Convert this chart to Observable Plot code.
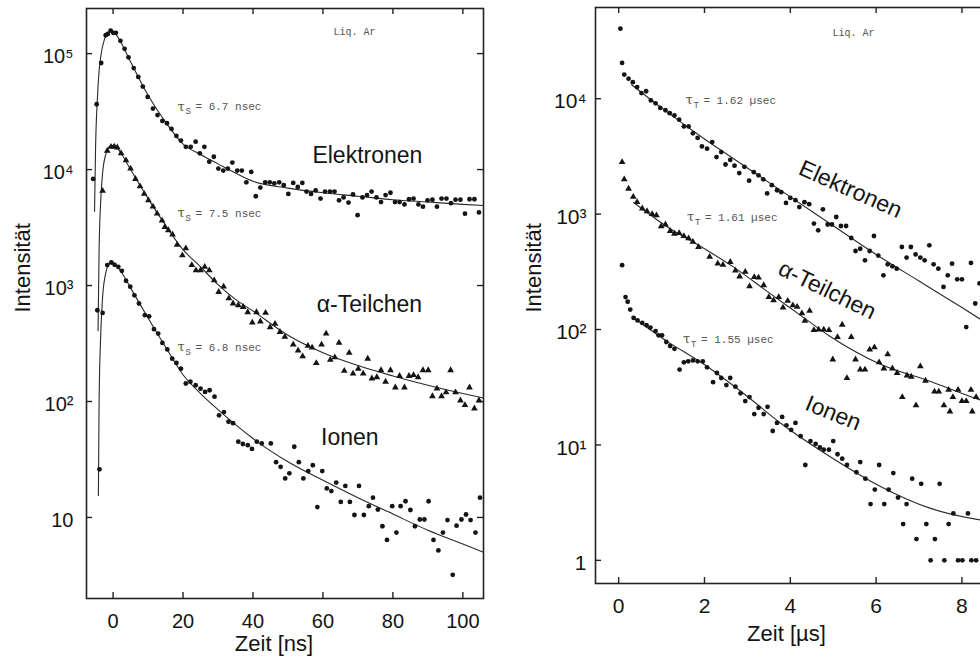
<!DOCTYPE html>
<html><head><meta charset="utf-8">
<script src="https://cdn.jsdelivr.net/npm/d3@7"></script>
<script src="https://cdn.jsdelivr.net/npm/@observablehq/plot@0.6"></script>
<style>
html,body{margin:0;padding:0;background:#fff;overflow:hidden}
#wrap{position:relative;width:980px;height:666px;overflow:hidden;background:#fff}
#wrap svg{position:absolute;top:0}
</style></head><body><div id="wrap"></div>
<script>
// ================= DATA =================
// --- left panel: singlet decay, time in ns ---
const nsXTicks = [0,20,40,60,80,100];
const nsYTicks = [10,100,1000,10000,100000];
const nsYTickLabels = ["10","10²","10³","10⁴","10⁵"];

const elecNsT = [-5.7,-4.7,-3.4,-2.1,-1.5,-0.7,0.05,0.8,2.1,3.3,4.4,5.9,7.2,8.5,9.9,11.4,12.7,14.1,15.4,16.7,18.1,19.4,20.8,22.2,23.6,24.8,26.1,27.5,28.8,30.1,31.5,32.8,34.1,35.5,36.8,38.1,39.5,40.8,42.1,43.5,44.8,46.1,47.5,48.8,50.1,51.5,52.8,54.1,55.3,56.6,57.9,59.3,60.6,62,63.3,64.6,65.9,67.3,68.6,69.9,71.3,72.6,73.9,75.3,76.6,77.9,79.3,80.6,81.9,83.3,84.6,85.9,87.3,88.6,89.9,91.3,92.6,93.9,95.3,96.6,97.9,99.3,100.6,101.9,103.3,104.6];
const elecNsI = [8300,36600,83000,144000,148000,158000,151000,151000,129000,110000,93000,75000,63000,52000,42300,33600,29500,26300,25100,22400,19500,17800,15700,15700,17400,13800,15700,11700,12900,10200,9800,10200,11500,9800,9800,7760,9550,5890,7000,7760,7760,7590,7760,7330,6170,7670,7080,7670,6460,6170,6610,5620,6460,6460,6460,5430,5750,5190,6100,4040,5750,6030,6460,5750,5250,6030,6310,5250,5250,5010,5550,5620,5010,4790,5430,5500,4790,5620,5620,5130,5500,5500,4170,5550,5550,4270];

const alphaNsT = [-3.0,-1.66,-0.6,0.33,1.2,2.3,3.7,5.0,6.4,7.7,8.9,10.1,11.4,12.6,14.0,14.8,15.8,17.0,18.3,19.8,20.8,22.5,23.7,25,26.2,27.5,28.9,30.2,31.6,33.1,34.3,35.8,37.2,38.5,39.8,41,42.1,43.6,44.9,46.3,47.7,49.1,51.5,52.9,54.2,55.7,56.9,58.1,59.6,60.9,62.1,63.4,64.6,66.1,67.5,68.6,70.1,71.5,72.8,74,75.4,76.6,77.9,79.3,80.7,81.9,83.3,84.6,85.9,87.2,88.6,90.1,91.3,92.6,93.9,95.2,96.5,97.9,99.3,100.6,101.9,103.3,104.6];
const alphaNsI = [6550,14500,15700,15800,15500,13800,12000,10200,8300,7180,6170,5430,4790,4170,3630,3200,3000,2750,2240,1820,2090,1500,1350,1350,1450,1350,1110,880,980,776,700,676,653,589,479,589,490,582,437,468,398,361,309,275,245,302,292,214,309,385,229,240,320,184,263,174,191,174,234,158,162,186,148,186,132,166,132,166,169,162,186,186,111,129,111,120,186,120,102,93,132,87,102];

const ionNsT = [-4.5,-3.9,-3.0,-1.66,-0.5,0.43,1.5,2.5,3.7,4.9,6.1,7.4,9.1,10.3,11.7,12.9,14.1,15.5,16.9,18.1,19.4,20.8,22.1,23.6,25,26.3,27.6,29,30.3,31.7,33,34.3,35.8,37.1,38.5,39.7,41.1,42.5,45.1,46.6,47.9,49.2,50.4,51.8,53.1,54.4,55.8,57.1,58.4,59.8,61.1,62.4,63.8,65.1,66.4,67.7,69,70.3,71.7,73.1,74.3,75.7,77,78.3,79.8,81,82.2,83.6,85,86.3,87.7,89,90.2,91.6,93,94.3,95.6,97.1,98.2,99.6,100.9,102.2,103.6,104.9];
const ionNsI = [612,26,581,1500,1580,1510,1450,1340,1100,977,824,700,555,543,420,385,320,281,234,215,192,143,148,138,129,121,125,110,76,81,67,65,45,43,42,39,45,43.5,43.5,30,27.3,21.7,24,40.7,30,21.7,25.1,28.2,12.3,25.1,17.8,16.9,20,13.6,18.7,13.6,10.5,18.7,10.5,12.5,14.8,11.7,8.4,6.4,12.5,7.4,12.5,13.8,11.6,8.4,9.6,9.6,13.8,6.4,5.2,7.4,9.5,3.2,8.5,9.6,10.6,9.5,7.4,14.8];

// fitted curves
const elecNsFitT = [-5.3,-5.0,-4.5,-4.0,-3.5,-2.5,-1.5,-0.5,0.5,2,5,10,15,20,25,30,35,40,50,60,70,80,90,100,105.9];
const elecNsFitI = [4370,15800,39800,70800,95500,132000,151000,157000,151000,129000,85100,43700,25700,16600,13500,11200,9330,7940,6920,6310,5890,5500,5250,5010,4900];
const alphaNsFitT = [-4.3,-4.0,-3.5,-3.0,-2.0,-1.0,0,1,2.5,5,10,15,20,25,30,35,40,50,60,70,80,90,100,105.9];
const alphaNsFitI = [407,2000,5620,9330,13800,15800,16200,15500,13500,10000,5620,3310,2040,1450,1020,759,603,372,263,204,166,138,117,107];
const ionNsFitT = [-4.2,-4.0,-3.5,-3.0,-2.0,-1.0,0,1,2.5,5,10,15,20,25,30,35,40,50,60,70,80,90,100,105.9];
const ionNsFitI = [15.5,100,398,794,1320,1550,1580,1480,1290,955,525,295,170,117,85.1,63.1,47.9,30.2,20.9,14.8,10.7,7.76,5.89,5.01];

const tauNsSub = ["S","S","S"];
const tauNsText = ["= 6.7 nsec","= 7.5 nsec","= 6.8 nsec"];

// --- right panel: triplet decay, time in µs ---
const usXTicks = [0,2,4,6,8];
const usYTicks = [1,10,100,1000,10000];
const usYTickLabels = ["1","10¹","10²","10³","10⁴"];

const elecUsT = [0.04,0.08,0.13,0.23,0.33,0.43,0.53,0.64,0.75,0.86,0.97,1.09,1.19,1.3,1.41,1.52,1.63,1.73,1.84,1.94,2.06,2.18,2.28,2.39,2.49,2.6,2.7,2.81,2.93,3.04,3.15,3.26,3.37,3.46,3.57,3.69,3.79,3.9,4.0,4.12,4.21,4.33,4.44,4.55,4.65,4.76,4.87,4.97,5.07,5.18,5.3,5.42,5.52,5.63,5.74,5.85,5.95,6.05,6.17,6.27,6.38,6.48,6.6,6.71,6.81,6.92,7.03,7.13,7.24,7.34,7.45,7.57,7.67,7.77,7.89,8.0,8.1,8.21,8.31,8.41];
const elecUsI = [40400,20400,16200,14900,13900,12600,11200,11600,9660,9120,8320,7940,7500,7160,6580,5750,5750,5010,4570,3860,3690,4210,3120,3450,2690,2950,2630,2270,2570,1950,2310,2170,2000,1510,1780,1610,1550,1250,1380,1320,1150,1270,1220,828,724,1100,813,813,944,789,789,621,479,501,398,479,646,437,295,367,353,337,519,420,519,447,420,398,537,367,337,234,295,372,272,272,105,378,168,251];

const alphaUsT = [0.08,0.13,0.23,0.34,0.43,0.55,0.66,0.78,0.88,0.99,1.09,1.2,1.3,1.41,1.52,1.63,1.73,1.86,2.12,2.31,2.43,2.6,2.72,2.82,2.95,3.05,3.16,3.26,3.38,3.5,3.61,3.73,3.83,3.94,4.06,4.16,4.27,4.34,4.45,4.55,4.66,4.78,4.9,4.99,5.1,5.21,5.32,5.42,5.52,5.63,5.74,5.85,5.96,6.07,6.18,6.27,6.38,6.49,6.61,6.72,6.82,6.93,7.03,7.15,7.36,7.46,7.58,7.69,7.72,7.79,7.91,8.0,8.1,8.21,8.24,8.33];
const alphaUsI = [2820,2000,1660,1410,1270,1120,1060,1000,977,783,813,714,676,685,646,617,575,519,427,372,363,385,324,288,316,237,285,282,242,191,179,191,155,177,162,157,138,119,145,99,100,100,99,55,86,110,38,86,55,45,45,67,70,52,46,61,46,42,26,40,39,22,48,36,29,29,22,30,19.5,26,30,24,24,30,19.5,26];

const ionUsT = [0.08,0.16,0.21,0.27,0.35,0.44,0.55,0.65,0.74,0.86,0.93,1.01,1.11,1.2,1.3,1.42,1.52,1.62,1.73,1.84,1.96,2.06,2.2,2.29,2.39,2.51,2.6,2.72,2.84,2.95,3.05,3.16,3.26,3.38,3.47,3.59,3.69,3.81,3.91,4.02,4.12,4.24,4.35,4.47,4.59,4.69,4.78,4.9,5.0,5.1,5.21,5.32,5.54,5.63,5.75,5.87,5.97,6.07,6.19,6.29,6.4,6.51,6.63,6.71,6.84,6.94,7.05,7.17,7.27,7.37,7.48,7.59,7.69,7.8,7.91,8.01,8.14,8.22,8.33];
const ionUsI = [361,191,174,149,126,120,114,109,104,97,89,89,78,72,68,45,52,53,54,53,53,47,35,42,38,33,38,32,28,24,26,18.5,21,18.5,21.4,13.2,15.5,17.5,14.8,13.5,15.5,11.9,6.7,10.8,10.2,9.5,9.1,9.1,10.8,8.3,7.6,6.7,5.8,7.1,5.1,3.07,4.1,6.7,3.07,4.1,5.7,3.5,2.06,3.07,5.1,1.53,4.6,2.06,1.0,1.53,4.6,1.0,2.06,2.55,1.0,1.0,2.55,1.0,1.0];

const elecUsFitT = [0.3,1,2,3,4,5,6,7,8,8.6];
const elecUsFitI = [13200,8320,4470,2510,1410,794,447,263,155,112];
const alphaUsFitT = [0.35,1.13,2.0,2.68,3.46,4.2,4.93,6.1,7.27,8.43,8.6];
const alphaUsFitI = [1260,776,501,347,214,136,87,50,35.5,24.5,23.4];
const ionUsFitT = [0.31,1.13,1.9,3.0,3.77,4.93,6.1,7.27,8.43,8.6];
const ionUsFitI = [129,79,52.5,26.3,15.5,7.9,4.37,2.82,2.24,2.19];

const tauUsSub = ["T","T","T"];
const tauUsText = ["= 1.62 µsec","= 1.61 µsec","= 1.55 µsec"];

const seriesNames = ["Elektronen","α-Teilchen","Ionen"];
const sampleLabel = "Liq. Ar";
const yTitle = "Intensität";
const nsXTitle = "Zeit [ns]";
const usXTitle = "Zeit [µs]";

// ================= LAYOUT (annotation anchors in data units) =================
const FONT = "'Liberation Sans', Arial, Helvetica, sans-serif";
const MONO = "'Liberation Mono', 'DejaVu Sans Mono', monospace";
const INK = "#141414";
const GREY = "#555";

const zipRows = (T, I) => T.map((t, i) => ({t, v: I[i]})).filter(d => d.v != null);

const left = {
  left: 0, width: 500, height: 666, ml: 86, mr: 17, mt: 8, mb: 68,
  xDomain: [-7.6, 105.9], yDomain: [2.0, 2.45e5],
  xTicks: nsXTicks, yTicks: nsYTicks, yTickLabels: nsYTickLabels,
  tickFont: 20, yPad: 13, rightTicks: true,
  series: [
    {pts: zipRows(elecNsT, elecNsI), fit: zipRows(elecNsFitT, elecNsFitI), tri: false},
    {pts: zipRows(alphaNsT, alphaNsI), fit: zipRows(alphaNsFitT, alphaNsFitI), tri: true},
    {pts: zipRows(ionNsT, ionNsI), fit: zipRows(ionNsFitT, ionNsFitI), tri: false}
  ],
  names: seriesNames.map((s, i) => ({s, t: [72.7, 73.3, 67.7][i], v: [13300, 690, 49][i], r: 0})),
  taus: tauNsText.map((s, i) => ({s, sub: tauNsSub[i], t: 18.4, v: [35000, 4200, 294][i]})),
  liq: {t: 69, v: 153000},
  yTitleDx: -64, yTitleDy: 9,
  xTitle: nsXTitle, xTitleT: 46, xTitleDy: 52
};

const right = {
  left: 500, width: 583, height: 666, ml: 95, mr: 10, mt: 7, mb: 83,
  xDomain: [-0.54, 10.6], yDomain: [0.63, 61700],
  xTicks: usXTicks, yTicks: usYTicks, yTickLabels: usYTickLabels,
  tickFont: 21, yPad: 9, rightTicks: false,
  series: [
    {pts: zipRows(elecUsT, elecUsI), fit: zipRows(elecUsFitT, elecUsFitI), tri: false},
    {pts: zipRows(alphaUsT, alphaUsI), fit: zipRows(alphaUsFitT, alphaUsFitI), tri: true},
    {pts: zipRows(ionUsT, ionUsI), fit: zipRows(ionUsFitT, ionUsFitI), tri: false}
  ],
  names: seriesNames.map((s, i) => ({s, t: [5.4, 4.86, 5.0][i], v: [1640, 219, 18.8][i], r: [24, 26, 22][i]})),
  taus: tauUsText.map((s, i) => ({s, sub: tauUsSub[i], t: [1.555, 1.59, 1.5][i], v: [9700, 938, 82.4][i]})),
  liq: {t: 5.47, v: 37500},
  yTitleDx: -62, yTitleDy: 17,
  xTitle: usXTitle, xTitleT: 3.91, xTitleDy: 57
};

function panel(c) {
  const fw = c.width - c.ml - c.mr;
  const fh = c.height - c.mt - c.mb;
  const tk = 6;
  const tickStyle = {stroke: "#222", strokeWidth: 1.4};
  const marks = [
    Plot.frame({stroke: "#222", strokeWidth: 1.6}),
    Plot.tickX(c.xTicks, {x: d => d, insetTop: fh - tk, ...tickStyle}),
    Plot.tickX(c.xTicks, {x: d => d, insetBottom: fh - tk, ...tickStyle}),
    Plot.tickY(c.yTicks, {y: d => d, insetRight: fw - tk, ...tickStyle}),
    Plot.axisX({ticks: c.xTicks, tickSize: 0, tickPadding: 15, label: null, fontSize: c.tickFont}),
    Plot.axisY({ticks: c.yTicks, tickSize: 0, tickPadding: c.yPad, label: null, fontSize: c.tickFont, dy: 3,
      tickFormat: d => c.yTickLabels[c.yTicks.indexOf(d)]})
  ];
  if (c.rightTicks) marks.push(Plot.tickY(c.yTicks, {y: d => d, insetLeft: fw - tk, ...tickStyle}));
  for (const s of c.series) {
    marks.push(Plot.line(s.fit, {x: "t", y: "v", curve: "monotone-x", stroke: "#2a2a2a", strokeWidth: 1.1}));
    marks.push(Plot.dot(s.pts, s.tri
      ? {x: "t", y: "v", symbol: "triangle", r: 2.5, fill: INK, stroke: "none"}
      : {x: "t", y: "v", r: 2.4, fill: INK, stroke: "none"}));
  }
  // small typewriter annotations
  marks.push(Plot.text([c.liq], {x: "t", y: "v", text: () => sampleLabel, fontFamily: MONO, fontSize: 10, fill: GREY}));
  marks.push(Plot.text(c.taus, {x: "t", y: "v", text: () => "τ", textAnchor: "start", fontFamily: "'DejaVu Serif', serif", fontSize: 13, fill: GREY}));
  marks.push(Plot.text(c.taus, {x: "t", y: "v", text: "sub", textAnchor: "start", dx: 8, dy: 5, fontFamily: MONO, fontSize: 9, fill: GREY}));
  marks.push(Plot.text(c.taus, {x: "t", y: "v", text: "s", textAnchor: "start", dx: 18, fontFamily: MONO, fontSize: 11, fill: GREY}));
  // series names
  marks.push(Plot.text(c.names, {x: "t", y: "v", text: "s", rotate: "r", fontSize: 23, fill: INK}));
  // axis titles
  marks.push(Plot.text([yTitle], {frameAnchor: "left", dx: c.yTitleDx, dy: c.yTitleDy, rotate: -90, fontSize: 22, fill: INK}));
  marks.push(Plot.text([c.xTitle], {x: c.xTitleT, frameAnchor: "bottom", dy: c.xTitleDy, fontSize: 22, fill: INK}));
  const svg = Plot.plot({
    width: c.width, height: c.height,
    marginLeft: c.ml, marginRight: c.mr, marginTop: c.mt, marginBottom: c.mb,
    style: {fontFamily: FONT, fontSize: "20px", color: INK, background: "transparent", overflow: "visible"},
    x: {domain: c.xDomain},
    y: {type: "log", domain: c.yDomain},
    marks
  });
  svg.style.left = c.left + "px";
  svg.style.maxWidth = "none";
  return svg;
}

const wrap = document.getElementById("wrap");
wrap.appendChild(panel(left));
wrap.appendChild(panel(right));
</script></body></html>
